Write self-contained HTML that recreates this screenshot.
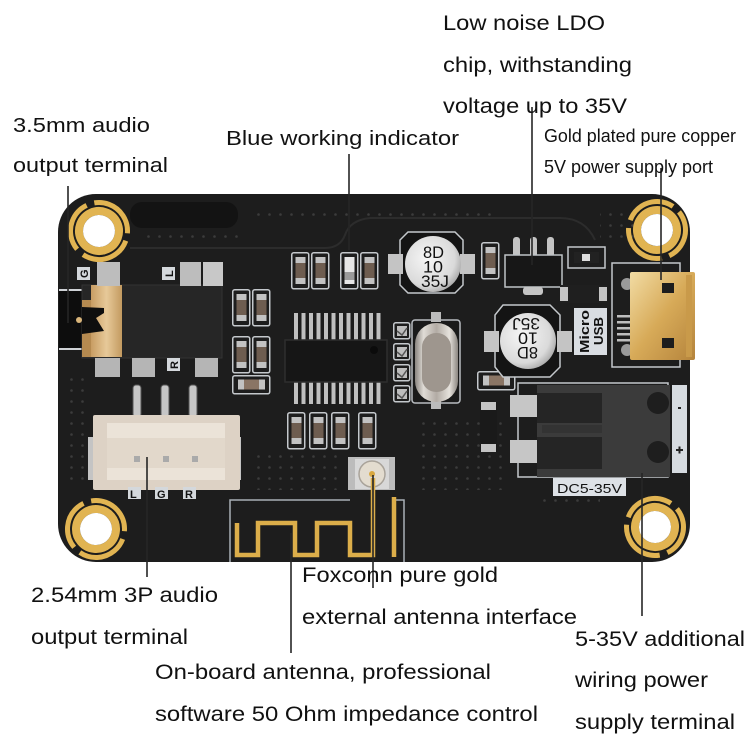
<!DOCTYPE html>
<html><head><meta charset="utf-8"><style>
html,body{margin:0;padding:0;background:#fff;}
svg{display:block;}
text{font-family:"Liberation Sans",Arial,sans-serif;fill:#111;}
</style></head><body>
<svg width="750" height="750" viewBox="0 0 750 750" xmlns="http://www.w3.org/2000/svg">
<defs>
<linearGradient id="gold" x1="0" y1="0" x2="1" y2="1">
 <stop offset="0" stop-color="#f2dca4"/><stop offset="0.5" stop-color="#d7aa58"/><stop offset="1" stop-color="#b5843c"/>
</linearGradient>
<linearGradient id="jg" x1="0" y1="0" x2="1" y2="0">
 <stop offset="0" stop-color="#c89d63"/><stop offset="0.5" stop-color="#e7c999"/><stop offset="1" stop-color="#c39a60"/>
</linearGradient>
<radialGradient id="capg" cx="0.4" cy="0.4" r="0.7">
 <stop offset="0" stop-color="#f6f6f6"/><stop offset="0.7" stop-color="#dadada"/><stop offset="1" stop-color="#9a9a9a"/>
</radialGradient>
<linearGradient id="xtal" x1="0" y1="0" x2="1" y2="0">
 <stop offset="0" stop-color="#8a8580"/><stop offset="0.2" stop-color="#e0dcd6"/><stop offset="0.5" stop-color="#b2aba4"/><stop offset="0.8" stop-color="#e6e2dc"/><stop offset="1" stop-color="#8a8580"/>
</linearGradient>
<pattern id="dots" width="11" height="11" patternUnits="userSpaceOnUse"><circle cx="5.5" cy="5.5" r="1.3" fill="#3c3c3c"/></pattern>
<g id="rv">
 <rect x="0.75" y="0.75" width="17" height="36" rx="2" fill="none" stroke="#c4c8cc" stroke-width="1.5"/>
 <rect x="4.5" y="5" width="10" height="27" fill="#c2c2c2"/>
 <rect x="4.5" y="11" width="10" height="15" fill="#6e5d50"/>
</g>
<g id="rh">
 <rect x="0.75" y="0.75" width="37" height="18" rx="2" fill="none" stroke="#c4c8cc" stroke-width="1.5"/>
 <rect x="6" y="4.5" width="27" height="10" fill="#c2c2c2"/>
 <rect x="12" y="4.5" width="15" height="10" fill="#8a7565"/>
</g>
<g id="sq">
 <rect x="0.75" y="0.75" width="16" height="16" rx="2" fill="none" stroke="#c4c8cc" stroke-width="1.5"/>
 <rect x="4" y="4" width="10" height="10" fill="#bdbdbd"/>
 <path d="M4 9 L9 13 L14 6" stroke="#555" stroke-width="1.5" fill="none"/>
</g>
<g id="ring">
 <circle r="20" fill="none" stroke="#e1b452" stroke-width="8"/>
 <circle r="16" fill="#fff"/>
 <circle r="28.5" fill="none" stroke="#e1b452" stroke-width="5" stroke-dasharray="51.7 8"/>
</g>
</defs>
<rect width="750" height="750" fill="#fff"/>

<!-- board -->
<rect x="58" y="194" width="632" height="368" rx="38" fill="#1d1d1d"/>
<rect x="130" y="202" width="108" height="26" rx="12" fill="#131313"/>
<!-- vias -->
<rect x="255" y="206" width="240" height="12" fill="url(#dots)"/>
<rect x="140" y="228" width="100" height="12" fill="url(#dots)"/>
<rect x="600" y="206" width="40" height="34" fill="url(#dots)"/>
<rect x="62" y="370" width="22" height="110" fill="url(#dots)"/>
<rect x="420" y="420" width="90" height="70" fill="url(#dots)"/>
<rect x="250" y="455" width="90" height="35" fill="url(#dots)"/>
<rect x="540" y="495" width="60" height="12" fill="url(#dots)"/>
<!-- faint traces -->
<path d="M130 248 H325 Q340 248 345 235 Q350 220 370 218 H560 Q585 218 595 240" stroke="#2c2c2c" stroke-width="2" fill="none"/>

<!-- mounting rings -->
<use href="#ring" transform="translate(99,231) rotate(20)"/>
<use href="#ring" transform="translate(657,230) rotate(80)"/>
<use href="#ring" transform="translate(96,529) rotate(140)"/>
<use href="#ring" transform="translate(655,527) rotate(200)"/>

<!-- 3.5mm jack -->
<rect x="59" y="290" width="24" height="59" fill="#0d0d0d"/>
<rect x="59" y="289" width="24" height="2" fill="#cfd2d6"/>
<rect x="59" y="348" width="24" height="2" fill="#cfd2d6"/>
<rect x="82" y="285" width="140" height="73" fill="#262626" stroke="#333" stroke-width="1"/>
<rect x="91" y="285" width="31" height="72" fill="url(#jg)"/>
<path d="M82 300 H91 V357 H82 Z" fill="#b58a50"/>
<path d="M82 307 L104 308 L104 313 L96 318 L104 331 L82 334 Z" fill="#0e0e0e"/>
<circle cx="79" cy="320" r="3" fill="#d9b57a"/>
<rect x="97" y="262" width="23" height="24" fill="#bdbdbd"/>
<rect x="180" y="262" width="21" height="24" fill="#bdbdbd"/>
<rect x="203" y="262" width="20" height="24" fill="#c8c8c8"/>
<rect x="95" y="358" width="25" height="19" fill="#b5b5b5"/>
<rect x="132" y="358" width="23" height="19" fill="#b5b5b5"/>
<rect x="195" y="358" width="23" height="19" fill="#b5b5b5"/>
<rect x="77" y="267" width="13" height="13" fill="#d4d8dc"/>
<text x="79" y="278" font-size="11" font-weight="bold" transform="rotate(-90 83.5 273.5)">G</text>
<rect x="162" y="267" width="13" height="13" fill="#d4d8dc"/>
<text x="165" y="278" font-size="11" font-weight="bold" transform="rotate(-90 168.5 273.5)">L</text>
<rect x="167" y="358" width="13" height="13" fill="#d4d8dc"/>
<text x="169" y="369" font-size="11" font-weight="bold" transform="rotate(-90 173.5 364.5)">R</text>

<!-- passives left of chip -->
<use href="#rv" x="232" y="289"/>
<use href="#rv" x="252" y="289"/>
<use href="#rv" x="232" y="336"/>
<use href="#rv" x="252" y="336"/>
<use href="#rh" x="232" y="375"/>
<!-- top row -->
<use href="#rv" x="291" y="252"/>
<use href="#rv" x="311" y="252"/>
<g transform="translate(340,252)">
 <rect x="0.75" y="0.75" width="17" height="36" rx="2" fill="none" stroke="#c4c8cc" stroke-width="1.5"/>
 <rect x="4.5" y="5" width="10" height="27" fill="#e6e6e6"/>
 <rect x="4.5" y="20" width="10" height="8" fill="#9a9a9a"/>
</g>
<use href="#rv" x="360" y="252"/>
<use href="#rv" x="481" y="242"/>
<!-- bottom row -->
<use href="#rv" x="287" y="412"/>
<use href="#rv" x="309" y="412"/>
<use href="#rv" x="331" y="412"/>
<use href="#rv" x="358" y="412"/>
<use href="#rh" x="477" y="371"/>

<!-- chip -->
<g fill="#c0c0c0">
 <rect x="294" y="313" width="4" height="27"/><rect x="301.5" y="313" width="4" height="27"/><rect x="309" y="313" width="4" height="27"/><rect x="316.5" y="313" width="4" height="27"/><rect x="324" y="313" width="4" height="27"/><rect x="331.5" y="313" width="4" height="27"/><rect x="339" y="313" width="4" height="27"/><rect x="346.5" y="313" width="4" height="27"/><rect x="354" y="313" width="4" height="27"/><rect x="361.5" y="313" width="4" height="27"/><rect x="369" y="313" width="4" height="27"/><rect x="376.5" y="313" width="4" height="27"/>
 <rect x="294" y="382" width="4" height="22"/><rect x="301.5" y="382" width="4" height="22"/><rect x="309" y="382" width="4" height="22"/><rect x="316.5" y="382" width="4" height="22"/><rect x="324" y="382" width="4" height="22"/><rect x="331.5" y="382" width="4" height="22"/><rect x="339" y="382" width="4" height="22"/><rect x="346.5" y="382" width="4" height="22"/><rect x="354" y="382" width="4" height="22"/><rect x="361.5" y="382" width="4" height="22"/><rect x="369" y="382" width="4" height="22"/><rect x="376.5" y="382" width="4" height="22"/>
</g>
<rect x="285" y="340" width="102" height="42" fill="#161616" stroke="#2e2e2e" stroke-width="1.5"/>
<circle cx="374" cy="350" r="4" fill="#0b0b0b"/>

<!-- crystal + pads -->
<use href="#sq" x="393" y="322"/>
<use href="#sq" x="393" y="343"/>
<use href="#sq" x="393" y="364"/>
<use href="#sq" x="393" y="385"/>
<rect x="412" y="320" width="48" height="83" rx="3" fill="#1a1a1a" stroke="#b9bdc2" stroke-width="1.5"/>
<rect x="431" y="312" width="10" height="10" fill="#bbb"/>
<rect x="431" y="401" width="10" height="8" fill="#bbb"/>
<rect x="415" y="323" width="43" height="79" rx="21" fill="url(#xtal)"/>
<rect x="422" y="333" width="29" height="59" rx="14" fill="#9e968e"/>

<!-- cap 1 -->
<path d="M408 232 H455 L463 240 V285 L455 293 H408 L400 285 V240 Z" fill="#141414" stroke="#c4c8cc" stroke-width="1.5"/>
<rect x="388" y="254" width="15" height="20" fill="#c4c4c4"/>
<rect x="460" y="254" width="15" height="20" fill="#c4c4c4"/>
<circle cx="433" cy="264" r="28" fill="url(#capg)"/>
<g fill="#7a7a7a" font-size="17">
 <text x="423" y="258" textLength="21" lengthAdjust="spacingAndGlyphs">8D</text>
 <text x="423" y="272.5" textLength="20" lengthAdjust="spacingAndGlyphs">10</text>
 <text x="421" y="287" textLength="28" lengthAdjust="spacingAndGlyphs">35J</text>
</g>
<!-- cap 2 -->
<path d="M503 305 H550 L560 315 V367 L550 377 H503 L495 367 V315 Z" fill="#141414" stroke="#c4c8cc" stroke-width="1.5"/>
<rect x="484" y="331" width="15" height="21" fill="#c4c4c4"/>
<rect x="557" y="331" width="15" height="21" fill="#c4c4c4"/>
<circle cx="528" cy="341" r="28" fill="url(#capg)"/>
<g fill="#7a7a7a" font-size="17" transform="rotate(180 528 341)">
 <text x="518" y="335" textLength="21" lengthAdjust="spacingAndGlyphs">8D</text>
 <text x="518" y="349.5" textLength="20" lengthAdjust="spacingAndGlyphs">10</text>
 <text x="516" y="364" textLength="28" lengthAdjust="spacingAndGlyphs">35J</text>
</g>

<!-- LDO -->
<rect x="513" y="237" width="7" height="20" rx="3" fill="#c4c4c4"/>
<rect x="530" y="237" width="7" height="20" rx="3" fill="#c4c4c4"/>
<rect x="547" y="237" width="7" height="20" rx="3" fill="#c4c4c4"/>
<rect x="505" y="255" width="57" height="32" fill="#171717" stroke="#bfc3c7" stroke-width="1.5"/>
<rect x="523" y="287" width="20" height="8" rx="3" fill="#c4c4c4"/>
<rect x="568" y="247" width="37" height="21" fill="none" stroke="#c4c8cc" stroke-width="1.5"/>
<rect x="574" y="252" width="25" height="11" fill="#222"/>
<rect x="582" y="254" width="8" height="7" fill="#ddd"/>
<rect x="560" y="285" width="47" height="18" fill="#1f1f1f"/>
<rect x="560" y="287" width="8" height="14" fill="#c4c4c4"/>
<rect x="599" y="287" width="8" height="14" fill="#c4c4c4"/>

<!-- Micro USB label -->
<rect x="574" y="308" width="33" height="47" fill="#d9dde2"/>
<text x="0" y="0" font-size="13" font-weight="bold" transform="translate(589,353) rotate(-90)" textLength="43" lengthAdjust="spacingAndGlyphs">Micro</text>
<text x="0" y="0" font-size="13" font-weight="bold" transform="translate(603,345) rotate(-90)" textLength="28" lengthAdjust="spacingAndGlyphs">USB</text>

<!-- USB port -->
<rect x="612" y="263" width="68" height="104" fill="none" stroke="#c4c8cc" stroke-width="1.5"/>
<g fill="#bdbdbd">
 <rect x="617" y="315" width="14" height="2.5"/><rect x="617" y="321" width="14" height="2.5"/><rect x="617" y="327" width="14" height="2.5"/><rect x="617" y="333" width="14" height="2.5"/><rect x="617" y="339" width="14" height="2.5"/>
</g>
<circle cx="627" cy="284" r="6" fill="#9a9a9a"/>
<circle cx="627" cy="350" r="6" fill="#9a9a9a"/>
<rect x="630" y="272" width="65" height="88" rx="2" fill="url(#gold)"/>
<rect x="662" y="283" width="12" height="10" fill="#1d1d1d"/>
<rect x="662" y="338" width="12" height="10" fill="#1d1d1d"/>
<rect x="686" y="275" width="6" height="82" fill="#c99a4a"/>

<!-- diode -->
<rect x="480" y="402" width="17" height="50" fill="#1a1a1a"/>
<rect x="481" y="402" width="15" height="8" fill="#c4c4c4"/>
<rect x="481" y="444" width="15" height="8" fill="#c4c4c4"/>

<!-- terminal block -->
<rect x="518" y="383" width="150" height="94" fill="none" stroke="#c4c8cc" stroke-width="1.5"/>
<rect x="510" y="395" width="28" height="22" fill="#c6c6c6"/>
<rect x="510" y="440" width="28" height="23" fill="#c6c6c6"/>
<rect x="537" y="385" width="133" height="92" fill="#3b3b3b"/>
<rect x="537" y="393" width="65" height="30" fill="#252525"/>
<rect x="537" y="437" width="65" height="32" fill="#252525"/>
<rect x="542" y="425" width="60" height="8" fill="#333"/>
<circle cx="658" cy="403" r="11" fill="#1e1e1e"/>
<circle cx="658" cy="452" r="11" fill="#1e1e1e"/>
<rect x="672" y="385" width="15" height="88" fill="#d6dbe0"/>
<rect x="678" y="407" width="3" height="2" fill="#222"/>
<rect x="676" y="449" width="7" height="2" fill="#222"/>
<rect x="678.5" y="446.5" width="2" height="7" fill="#222"/>
<rect x="553" y="478" width="73" height="18" fill="#dde1e6"/>
<text x="557" y="493" font-size="13" textLength="65" lengthAdjust="spacingAndGlyphs">DC5-35V</text>

<!-- 2.54mm connector -->
<g fill="#c6c6c6" stroke="#555" stroke-width="1">
 <rect x="133" y="385" width="8" height="32" rx="3"/>
 <rect x="161" y="385" width="8" height="32" rx="3"/>
 <rect x="189" y="385" width="8" height="32" rx="3"/>
</g>
<rect x="88" y="437" width="20" height="43" fill="#c4c4c4"/>
<rect x="224" y="437" width="17" height="43" fill="#c4c4c4"/>
<rect x="93" y="415" width="147" height="75" rx="2" fill="#ddd2c5"/>
<rect x="107" y="423" width="118" height="57" fill="#ebe3d8"/>
<rect x="107" y="438" width="118" height="30" fill="#e2d8cb"/>
<rect x="134" y="456" width="6" height="6" fill="#aaa"/>
<rect x="163" y="456" width="6" height="6" fill="#aaa"/>
<rect x="192" y="456" width="6" height="6" fill="#aaa"/>
<rect x="128" y="487" width="13" height="12" fill="#d4d8dc"/>
<text x="130" y="498" font-size="11" font-weight="bold">L</text>
<rect x="155" y="487" width="13" height="12" fill="#d4d8dc"/>
<text x="157" y="498" font-size="11" font-weight="bold">G</text>
<rect x="183" y="487" width="13" height="12" fill="#d4d8dc"/>
<text x="185" y="498" font-size="11" font-weight="bold">R</text>

<!-- U.FL -->
<rect x="348" y="457" width="47" height="33" fill="#bcbcbc"/>
<rect x="355" y="459" width="34" height="30" fill="#d8d8d8"/>
<circle cx="372" cy="474" r="13" fill="#e3dccf" stroke="#a9a39a" stroke-width="1.5"/>
<circle cx="372" cy="474" r="3" fill="#d9a840"/>

<!-- antenna -->
<path d="M230 562 V500 H350 M395 500 H404 V562" stroke="#a9b0b6" stroke-width="1.5" fill="none"/>
<path d="M237 523 V555 H258 V523 H295 V555 H317 V523 H350 V555 H373 V478" stroke="#dcae4a" stroke-width="4.5" fill="none" stroke-linejoin="miter"/>
<path d="M394 497 V557" stroke="#dcae4a" stroke-width="4.5" fill="none"/>

<!-- leader lines -->
<g stroke="#262626" stroke-width="1.6">
 <line x1="68" y1="186" x2="68" y2="323"/>
 <line x1="349" y1="154" x2="349" y2="250"/>
 <line x1="532" y1="107" x2="532" y2="265"/>
 <line x1="661" y1="168" x2="661" y2="280"/>
 <line x1="147" y1="457" x2="147" y2="577"/>
 <line x1="291" y1="533" x2="291" y2="653"/>
 <line x1="373" y1="475" x2="373" y2="588"/>
 <line x1="642" y1="473" x2="642" y2="616"/>
</g>

<!-- labels -->
<text x="443" y="30" font-size="21" textLength="162" lengthAdjust="spacingAndGlyphs">Low noise LDO</text>
<text x="443" y="72" font-size="21" textLength="189" lengthAdjust="spacingAndGlyphs">chip, withstanding</text>
<text x="443" y="113" font-size="21" textLength="184" lengthAdjust="spacingAndGlyphs">voltage up to 35V</text>
<text x="544" y="142" font-size="18" textLength="192" lengthAdjust="spacingAndGlyphs">Gold plated pure copper</text>
<text x="544" y="173" font-size="18" textLength="169" lengthAdjust="spacingAndGlyphs">5V power supply port</text>
<text x="13" y="132" font-size="20" textLength="137" lengthAdjust="spacingAndGlyphs">3.5mm audio</text>
<text x="13" y="172" font-size="20" textLength="155" lengthAdjust="spacingAndGlyphs">output terminal</text>
<text x="226" y="145" font-size="20" textLength="233" lengthAdjust="spacingAndGlyphs">Blue working indicator</text>
<text x="31" y="602" font-size="21" textLength="187" lengthAdjust="spacingAndGlyphs">2.54mm 3P audio</text>
<text x="31" y="644" font-size="21" textLength="157" lengthAdjust="spacingAndGlyphs">output terminal</text>
<text x="302" y="582" font-size="21" textLength="196" lengthAdjust="spacingAndGlyphs">Foxconn pure gold</text>
<text x="302" y="624" font-size="21" textLength="275" lengthAdjust="spacingAndGlyphs">external antenna interface</text>
<text x="155" y="679" font-size="21" textLength="336" lengthAdjust="spacingAndGlyphs">On-board antenna, professional</text>
<text x="155" y="721" font-size="21" textLength="383" lengthAdjust="spacingAndGlyphs">software 50 Ohm impedance control</text>
<text x="575" y="646" font-size="21" textLength="170" lengthAdjust="spacingAndGlyphs">5-35V additional</text>
<text x="575" y="687" font-size="21" textLength="133" lengthAdjust="spacingAndGlyphs">wiring power</text>
<text x="575" y="729" font-size="21" textLength="160" lengthAdjust="spacingAndGlyphs">supply terminal</text>
</svg>
</body></html>
